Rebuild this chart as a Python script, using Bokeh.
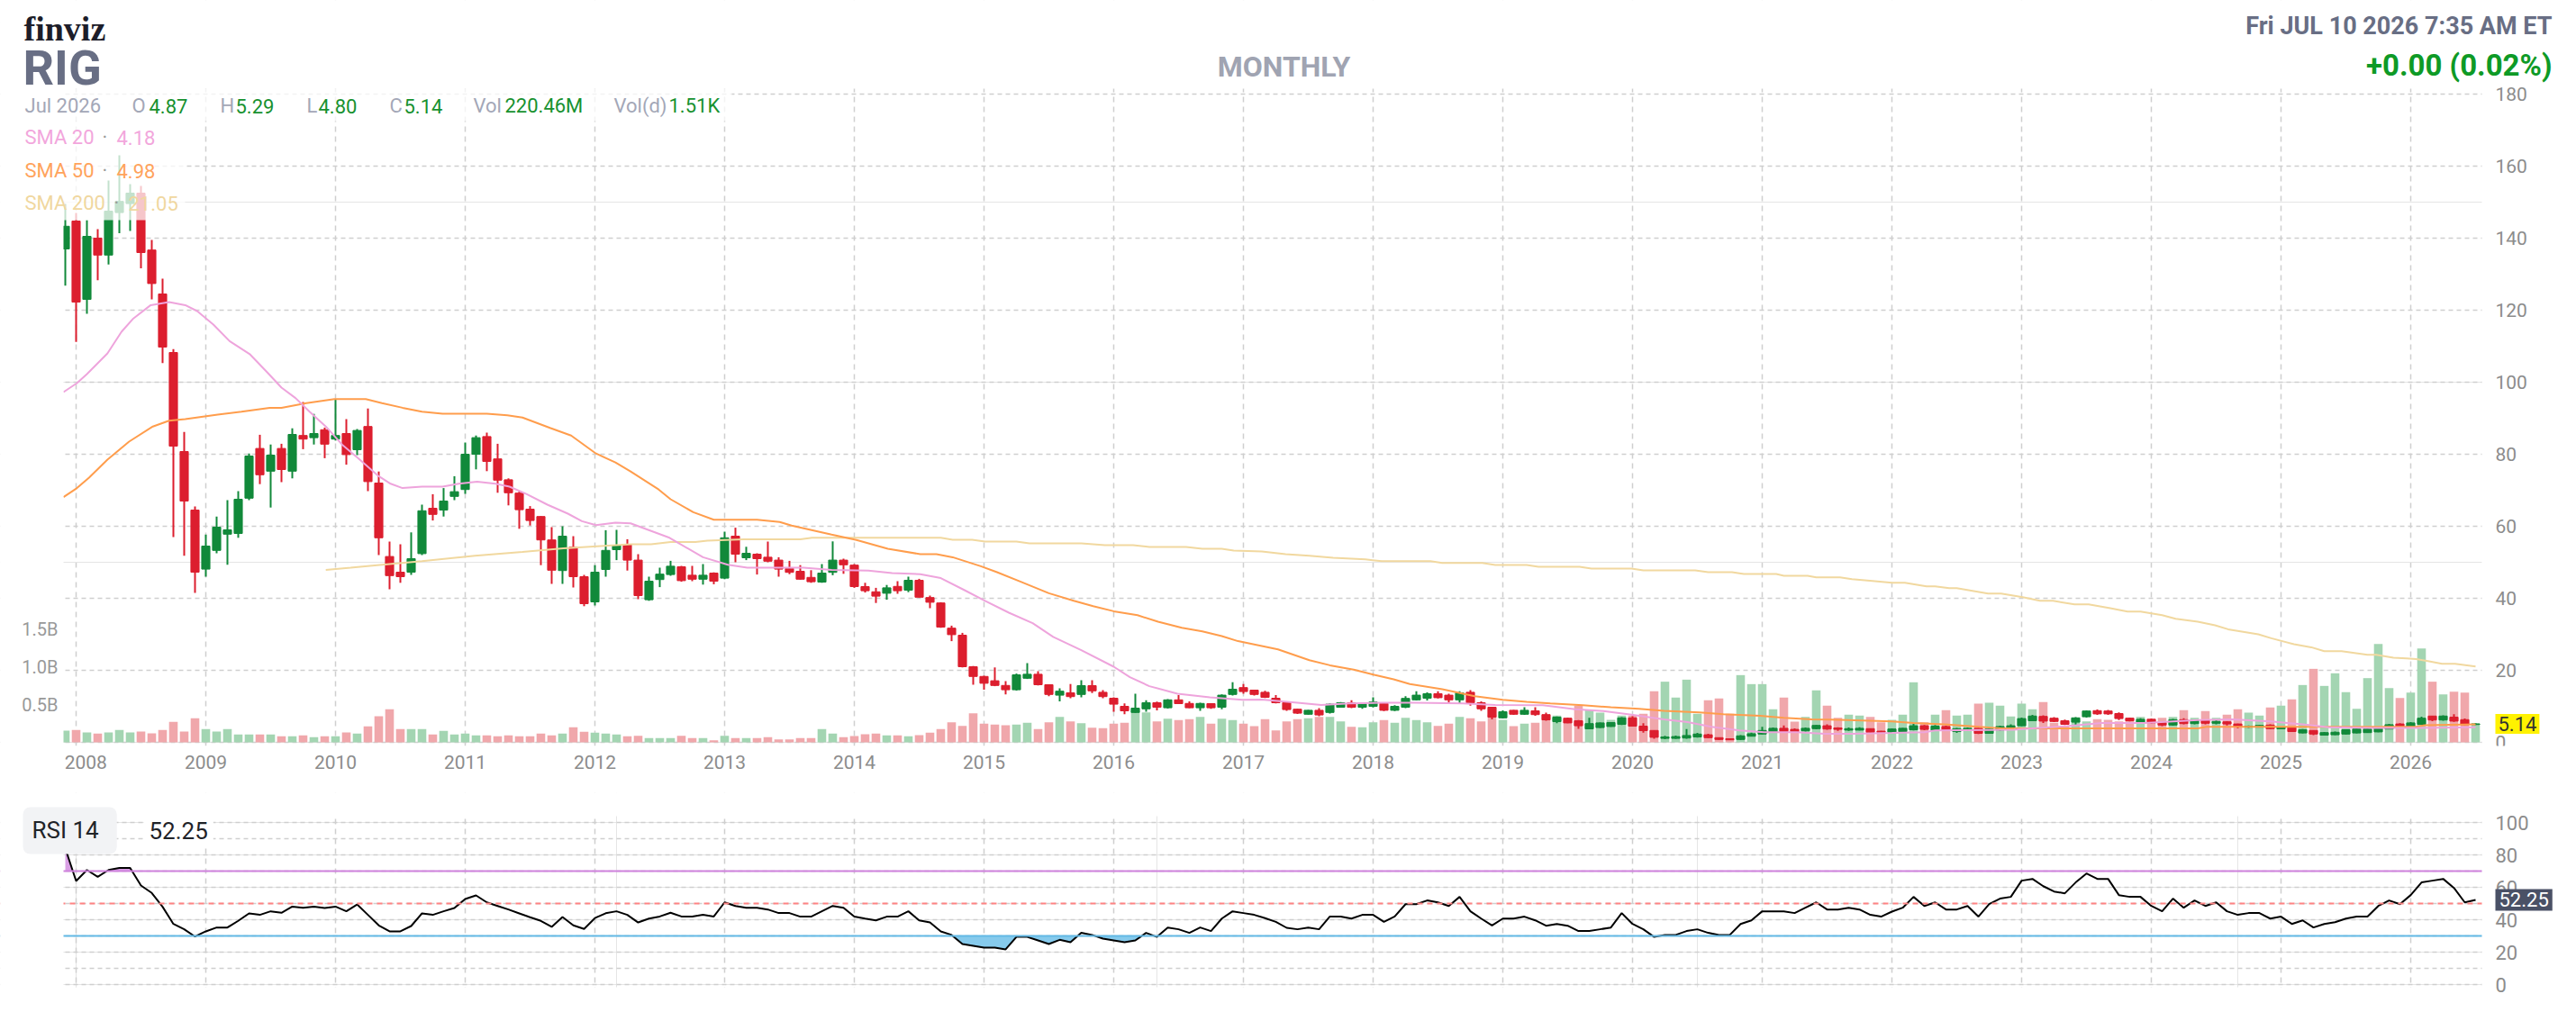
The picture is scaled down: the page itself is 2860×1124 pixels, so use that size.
import numpy as np
from bokeh.plotting import figure
from bokeh.models import Range1d, FixedTicker, Label, Span, BoxAnnotation, Grid
from bokeh.layouts import column
from bokeh.embed import file_html
from bokeh.resources import INLINE

FONT = "Roboto"

# ---------------- data (month index: 0 = Jan 2008, -1 = Dec 2007) ----------------
month_idx = list(range(-1, 223))
year_ticks = [12 * i for i in range(19)]
year_labels = [str(2008 + i) for i in range(19)]

# (open, high, low, close) per month
ohlc = [
    (137, 149.5, 126.8, 143.3),                                   # Dec 2007
    (144.75, 147, 111.2, 122.25), (123, 145, 119, 140.5), (140, 142.5, 128.3, 135.3),
    (135.3, 156, 132.7, 147.5), (147.1, 163, 141.4, 150.2), (149.6, 155, 142, 152.5),
    (152.5, 154.5, 131.6, 136), (136.7, 139.5, 123, 127.4), (124.5, 128.75, 105.3, 109.75),
    (108.25, 109.2, 57, 82.25), (80.75, 86.2, 51.8, 67), (64.5, 65.5, 41.5, 47.25),          # 2008
    (48.1, 57.7, 46, 54.5), (53.3, 62.7, 52.5, 59.75), (57.8, 67.25, 49.3, 59),
    (58, 69.75, 56.8, 67.5), (67.8, 80.2, 67.25, 79.5), (81.6, 85.4, 71.7, 74.3),
    (75.3, 82.7, 65.2, 79.75), (81.6, 82.9, 72.25, 75.75), (75.3, 87.2, 73.3, 85.5),
    (85.2, 94.5, 81.4, 84.2), (84.6, 91.2, 82.7, 85.75), (86.8, 87.4, 78.9, 82.8),           # 2009
    (84.2, 95.2, 83.8, 85.2), (85.75, 89.75, 77.1, 79.9), (81.25, 87, 79.75, 86.6),
    (87.7, 92.7, 69.75, 72.4), (72, 75.2, 52, 56.8), (51.6, 55.75, 42.5, 46.3),
    (47.25, 55, 44.3, 46), (47.25, 58.3, 46.5, 51), (52.4, 66, 52, 64.3),
    (65, 68.9, 61.6, 63.3), (64.5, 70.6, 62.7, 67), (68.3, 73.9, 67.25, 69.6),               # 2010
    (70.2, 83.25, 69, 80), (80, 85.2, 75.8, 84.6), (84.9, 86, 75.3, 78),
    (78.7, 82.9, 69.3, 72.8), (72.9, 73.3, 65.8, 69.3), (69.2, 69.6, 59.3, 64.6),
    (64.75, 65.6, 60.2, 61.6), (62.7, 62.8, 49.2, 56.2), (56.2, 59.75, 44, 47.8),
    (47.7, 60, 44, 57.25), (54.2, 57.25, 43, 46), (46, 46.5, 37.8, 38.5),                    # 2011
    (39, 49.2, 38, 47.25), (48, 58.9, 46, 53.3), (53.5, 59, 50.6, 54.75),
    (55, 56.4, 47.7, 50.6), (50.6, 52.25, 39.75, 40.75), (39.6, 46, 39.3, 44.75),
    (45.2, 48.5, 43.1, 46.7), (46.6, 50.4, 46.25, 48.9), (48.75, 49, 44.6, 44.9),
    (46.4, 49, 44.75, 45.3), (45.3, 49.5, 43.8, 46.4), (47, 47.2, 43.9, 44.75),              # 2012
    (45.6, 58.5, 45.3, 56.8), (57.25, 59.6, 50, 52.25), (51.25, 54.3, 50.6, 52.5),
    (52.25, 52.5, 46.6, 51), (51.4, 55.75, 50, 50.3), (50.6, 51.4, 46, 48.1),
    (48.3, 50.4, 46.7, 47.2), (47.5, 49.2, 45.2, 45.3), (45.8, 47.8, 44.3, 44.6),
    (44.5, 49.5, 44.3, 47), (47.2, 55.8, 46.4, 50.6), (50.6, 51, 46.8, 49.3),                # 2013
    (49.2, 49.5, 42.9, 43.25), (43.25, 44.3, 41.6, 42.1), (41.8, 42.9, 38.7, 40.6),
    (41.4, 43.7, 39.6, 42.9), (43.3, 44.75, 41.25, 42.1), (42.25, 46, 41.7, 45),
    (45, 45.4, 40.2, 40.3), (40.2, 40.75, 37.25, 38.9), (38.7, 38.9, 31.8, 32),
    (31.7, 32.4, 28.1, 29.9), (29.75, 30.4, 20.8, 21), (21, 21.2, 16, 18.3),                 # 2014
    (18.3, 18.5, 14.6, 16.4), (17.1, 20.8, 15.6, 15.8), (15.8, 17, 13.3, 14.6),
    (14.6, 19.1, 14.4, 18.75), (17.8, 22, 17.6, 18.9), (18.9, 19.75, 15.8, 16),
    (16, 16.1, 12.8, 13.3), (13.1, 15, 11.4, 14.2), (13.75, 16.2, 12.25, 12.7),
    (13.3, 17.25, 12.5, 15.75), (15.75, 17.25, 13.7, 14.3), (13.9, 14.5, 12.25, 12.7),       # 2015
    (12.25, 12.5, 8.5, 10.6), (10, 10.8, 7.8, 8.75), (8.3, 13.5, 8.2, 9.5),
    (9.3, 11.7, 8.5, 11), (11, 11.3, 8.9, 9.75), (9.6, 12, 9.4, 11.8),
    (11.8, 13.1, 10.6, 10.75), (10.8, 11.4, 9.5, 9.6), (9.6, 11, 8.75, 10.8),
    (10.75, 10.8, 9.3, 9.6), (9.75, 13.3, 9.2, 13.1), (13.3, 16.7, 13, 14.75),               # 2016
    (15.2, 16.2, 13.5, 14.1), (14.5, 14.6, 13, 13.3), (13.9, 14.3, 12.3, 12.5),
    (12.25, 13.1, 10.8, 11), (11, 11.4, 8.75, 9.1), (9.2, 9.3, 7.9, 8.1),
    (7.8, 9, 7.7, 8.9), (8.9, 9.5, 7.25, 7.6), (8.3, 10.8, 8, 10.6),
    (9.75, 11.2, 9.6, 11), (11, 11.7, 9.5, 9.75), (9.75, 11, 9.3, 10.7),                     # 2017
    (10, 12.5, 9.7, 11.2), (10.8, 11, 8.7, 8.9), (8.9, 10.3, 8.7, 10),
    (9.75, 12.8, 9.5, 12.2), (11.8, 14.2, 11.6, 13.1), (12.25, 13.9, 11.6, 13.5),
    (13.5, 14.2, 12.2, 12.4), (13.1, 13.5, 10.6, 11.8), (11.8, 14.2, 10.7, 13.75),
    (13.9, 14.5, 10.2, 11), (11, 11.4, 8.75, 9.3), (9.75, 9.9, 6.4, 7),                      # 2018
    (6.8, 8.9, 6.6, 8.5), (8.9, 9, 7.6, 7.8), (7.8, 9.75, 7.6, 8.9),
    (8.75, 9.75, 7.4, 7.7), (7.7, 8.25, 6, 6.25), (5.75, 7.2, 5.3, 7),
    (6.7, 6.9, 5.3, 5.4), (6, 6.2, 3.75, 4.6), (3.75, 6.8, 3.7, 5.2),
    (4.1, 5.5, 4, 5.4), (4.4, 5.6, 4.3, 5.5), (5, 7, 4.8, 6.8),                              # 2019
    (6.8, 7.25, 4.4, 4.5), (4.5, 5.3, 2.7, 3.25), (3.3, 3.4, 1, 1.4),
    (1.1, 1.8, 0.9, 1.5), (1.1, 1.9, 1, 1.6), (1.2, 3.7, 1, 1.9),
    (1.5, 2.6, 1.3, 2.3), (2.1, 2.4, 1.2, 1.3), (1.3, 1.4, 0.7, 0.8),
    (1.0, 1.1, 0.65, 0.7), (0.8, 2.0, 0.7, 1.8), (1.7, 2.7, 1.6, 2.4),                       # 2020
    (2.3, 4.3, 2.2, 3.3), (2.8, 4.1, 2.7, 3.9), (3.9, 4.7, 2.9, 3.0),
    (3.6, 3.9, 2.9, 3.0), (3.2, 4.1, 3.0, 3.9), (3.8, 4.8, 3.6, 4.7),
    (4.6, 5.0, 3.5, 3.7), (4.0, 4.2, 3.2, 3.6), (3.4, 4.1, 3.2, 3.8),
    (3.4, 4.2, 3.3, 3.9), (3.8, 3.9, 2.7, 2.8), (3.1, 3.2, 2.6, 2.8),                        # 2021
    (2.8, 3.9, 2.6, 3.7), (3.0, 4.0, 2.9, 3.9), (3.5, 5.2, 3.3, 4.6),
    (4.6, 4.8, 3.4, 3.6), (3.4, 4.8, 3.2, 4.5), (4.4, 4.6, 3.1, 3.4),
    (3.0, 4.0, 2.6, 3.8), (3.5, 4.1, 3.2, 3.9), (3.9, 4.0, 2.3, 2.5),
    (2.5, 3.9, 2.4, 3.7), (3.4, 4.6, 3.2, 4.4), (3.9, 5.0, 3.7, 4.6),                        # 2022
    (4.6, 6.9, 4.5, 6.6), (6.0, 7.6, 5.9, 7.3), (7.2, 7.5, 5.4, 5.9),
    (6.7, 7.0, 5.6, 5.8), (6.0, 6.3, 4.8, 5.0), (5.6, 7.0, 4.9, 6.8),
    (7.1, 8.9, 6.9, 8.7), (8.8, 9.1, 7.6, 7.9), (8.7, 9.0, 7.6, 7.9),
    (8.0, 8.3, 6.2, 6.6), (6.7, 6.9, 5.8, 6.0), (5.6, 6.7, 5.4, 6.4),                        # 2023
    (6.4, 6.6, 5.2, 5.4), (5.5, 5.8, 4.5, 4.8), (4.8, 6.5, 4.6, 6.3),
    (6.3, 6.7, 5.0, 5.2), (5.2, 6.4, 5.0, 6.1), (6.1, 6.2, 5.0, 5.3),
    (5.3, 6.1, 5.0, 5.8), (5.7, 5.9, 4.7, 5.1), (5.1, 5.2, 3.9, 4.3),
    (4.2, 4.7, 4.0, 4.5), (4.2, 4.9, 4.1, 4.7), (4.8, 5.0, 3.6, 3.8),                        # 2024
    (3.75, 4.4, 3.6, 4.2), (4.1, 4.2, 2.9, 3.0), (2.6, 3.7, 2.5, 3.5),
    (3.3, 3.4, 2.0, 2.3), (2.0, 2.9, 1.9, 2.7), (2.1, 3.0, 2.0, 2.8),
    (2.3, 3.6, 2.2, 3.5), (2.6, 3.8, 2.5, 3.7), (2.7, 3.9, 2.6, 3.7),
    (2.9, 4.4, 2.8, 4.2), (3.7, 5.1, 3.6, 4.9), (5.1, 5.3, 3.9, 4.0),                        # 2025
    (4.3, 5.6, 4.2, 5.4), (5.0, 7.1, 4.8, 6.7), (7.3, 7.4, 5.9, 6.2),
    (6.2, 7.5, 6.0, 7.3), (7.0, 7.8, 5.7, 5.9), (6.3, 6.6, 4.8, 4.9),
    (4.87, 5.29, 4.80, 5.14),                                                                # 2026
]

# monthly volume, millions of shares
volume_m = [
    155,
    163, 131, 115, 131, 163, 131, 143, 119, 163, 270, 143, 317,
    175, 143, 175, 103, 103, 103, 103, 79, 79, 91, 67, 79,
    79, 131, 115, 210, 345, 437, 175, 175, 175, 103, 151, 103,
    115, 91, 91, 79, 91, 79, 79, 115, 91, 115, 198, 139,
    127, 115, 103, 79, 87, 56, 56, 56, 87, 56, 56, 28,
    87, 56, 56, 56, 67, 40, 40, 56, 56, 175, 115, 67,
    83, 107, 115, 91, 91, 79, 95, 127, 175, 266, 218, 385,
    246, 234, 226, 234, 258, 175, 266, 337, 278, 254, 194, 187,
    246, 258, 417, 397, 278, 313, 294, 306, 337, 246, 313, 294,
    246, 214, 306, 159, 278, 306, 317, 337, 337, 278, 206, 198,
    266, 294, 258, 325, 294, 266, 218, 246, 337, 317, 278, 365,
    298, 214, 246, 258, 306, 353, 286, 484, 433, 393, 298, 353,
    353, 377, 675, 802, 591, 829, 377, 556, 580, 377, 889, 770,
    770, 437, 591, 274, 337, 687, 484, 325, 365, 353, 337, 266,
    298, 365, 794, 266, 365, 425, 353, 365, 512, 524, 484, 341,
    512, 437, 532, 258, 214, 298, 278, 306, 298, 278, 325, 337,
    313, 325, 337, 425, 325, 413, 325, 365, 437, 393, 353, 460,
    484, 567, 758, 972, 746, 913, 663, 444, 849, 1302, 718, 587,
    659, 1242, 802, 635, 671, 659, 220,
]

# RSI(14), one value per month
rsi14 = [
    84,
    63.9, 70.7, 66.5, 70.7, 72, 72, 61.1, 56.5, 48, 37.4, 34.1, 29.6,
    32.8, 35.2, 35.2, 39.3, 43.9, 43, 45.2, 44.3, 48.1, 47.4, 48.1, 47.2,
    48.1, 45.2, 49.4, 43, 36.5, 32.8, 32.8, 36.1, 43.9, 43, 45.2, 47.2,
    52.8, 55, 50.7, 48.5, 46.3, 43.9, 41.5, 39.3, 35.6, 41.7, 36.5, 34.3,
    41, 44, 45.2, 43, 38.3, 40.7, 42, 44.3, 42, 42, 43, 42,
    50.7, 48.5, 47.4, 47.4, 46.3, 44.1, 44.1, 41.9, 41.9, 45.2, 48.5, 47.4,
    41.9, 40.7, 39.6, 41.9, 41.9, 45.2, 39.6, 38.3, 32.8, 30.6, 25, 23.9,
    22.8, 22.8, 21.7, 29.4, 29.4, 27.2, 25, 27.6, 26.1, 31.9, 30.6, 28.3,
    27.2, 26.1, 27.2, 31.9, 29.4, 35.2, 34.1, 31.9, 35.2, 33, 40.7, 45.2,
    44.1, 43, 41, 38.7, 35, 34.1, 35.2, 34.1, 42, 42, 40.7, 43,
    43, 38.7, 42, 49.6, 49.6, 51.9, 50.7, 48.5, 54.1, 45.2, 40.7, 36.5,
    40.7, 40.7, 41.9, 39.6, 36.3, 37.4, 36.3, 33, 33, 34.1, 35.2, 44.1,
    37.4, 34.1, 29.4, 30.6, 30.6, 33, 34.1, 31.9, 30.6, 30.6, 37.4, 39.6,
    45.2, 45.2, 45.2, 44.1, 47.4, 50.7, 46.3, 46.3, 47.4, 46.3, 43, 41.9,
    45, 47.4, 54.1, 48.5, 50.7, 46.3, 46.3, 48.5, 41.9, 49.6, 53, 54.1,
    64.1, 65.2, 60.7, 57.4, 56.3, 63, 68.5, 65.2, 65.2, 55.2, 54.1, 54.1,
    48.5, 45.2, 53, 47.4, 51.9, 48.5, 50.7, 45.2, 43, 44.1, 44.1, 40.7,
    41.9, 37.4, 39.6, 35.2, 37.4, 38.5, 40.7, 41.9, 41.9, 48.5, 51.9, 49.6,
    55.2, 63, 64.1, 65.2, 59.6, 50.7, 52.25,
]

# moving averages: (month index, value)
sma20 = [(-1.17, 97.25), (0.08, 99.75), (1, 102.25), (2.9, 108), (4.2, 114), (5.3, 117.7),
         (6.9, 121.4), (8.6, 122.25), (10.1, 121.4), (11.2, 119.75), (12.7, 116), (14.2, 111.4),
         (16.1, 107.7), (17.7, 102.7), (19, 98.5), (20.3, 95.6), (21.6, 91.8), (23.1, 87.7),
         (24.6, 82.7), (26.1, 78.9), (28, 73.9), (29.1, 71.8), (30.2, 70.6), (32, 71), (33.9, 71),
         (35.4, 71.8), (37.1, 72.4), (38.8, 71.8), (40.1, 71), (41.7, 68.9), (43.6, 66), (45.5, 63.5),
         (46.8, 61.4), (48.1, 60.3), (49.9, 61), (51.3, 60.8), (54.9, 56.8), (58, 51.4), (60.3, 49.3),
         (62.1, 48.5), (64.7, 48.5), (67.3, 48.5), (69.9, 47.9), (73.3, 47.7), (75.5, 47), (78.1, 46.7),
         (80, 45.6), (82.2, 42.25), (84.1, 39.3), (86.3, 36), (88.5, 33.1), (90.4, 29.3), (93, 25.6),
         (96, 21), (97.5, 18.1), (99.3, 15.6), (101.9, 13.5), (104.9, 12.5), (107.9, 11.8),
         (109.7, 11.9), (113, 11), (115.2, 10.4), (117.8, 10.8), (120.8, 11), (123.8, 11),
         (128.3, 10.8), (131.3, 10.4), (135.7, 10.3), (138.7, 9.2), (141.3, 8.7), (143.9, 7.7),
         (146.9, 6.4), (149.1, 5.6), (151.3, 4.3), (153.9, 3.3), (156.2, 2.8), (159.2, 2.8),
         (161.8, 2.4), (164.3, 2.4), (168, 2.6), (171, 2.8), (172, 3.3), (179.3, 3.5), (180, 3.7),
         (184.2, 4.5), (187.4, 5.4), (191.4, 5.4), (196.3, 6.2), (199.5, 6.4), (203.1, 5.8),
         (206, 5.0), (208.4, 4.2), (212.4, 4.0), (216.5, 4.0), (222, 4.18)]
sma50 = [(-1.17, 68.1), (0.08, 70.6), (1.2, 73.5), (2.9, 78.5), (4.9, 83.5), (7.1, 87.7),
         (8.6, 89.3), (10.1, 89.75), (13.1, 91), (15.3, 91.8), (17.9, 92.9), (19, 92.9),
         (21.3, 94.2), (23.9, 95.3), (26.8, 95.3), (28.3, 94.2), (30.2, 92.9), (32, 91.8),
         (33.9, 91.25), (38, 91.25), (39.9, 90.8), (41.3, 90.2), (43.9, 87.25), (45.8, 85.2),
         (48.1, 80.2), (49.9, 77.7), (51.3, 75.2), (53.9, 70.2), (55, 67.5), (57.1, 63.9),
         (59, 61.8), (63, 61.8), (65.1, 61.2), (66.2, 60.2), (69.9, 57.7), (72.2, 56.2),
         (75.1, 53.75), (78.1, 52.25), (79.6, 52.25), (81.1, 51.4), (83.7, 48.9), (85.2, 47.25),
         (87.4, 44.6), (90, 41.4), (92.3, 39.3), (94.1, 37.8), (96, 36.4), (98.2, 35.3),
         (100.1, 33.5), (102.3, 31.8), (104.2, 30.8), (106, 29.5), (107.5, 28.1), (109.7, 26.75),
         (111.2, 25.8), (114.1, 22.8), (116, 21.4), (118.2, 20.2), (120.1, 18.75), (121.9, 17.5),
         (123.4, 16.2), (126.4, 14.75), (129.4, 12.8), (132, 11.8), (134.2, 11.25), (136.4, 10.8),
         (139.4, 10.3), (142, 9.75), (144.6, 9.3), (146.9, 8.75), (150.2, 8.3), (152.4, 7.8),
         (155.8, 7.4), (158, 6.8), (160.6, 6.4), (163.9, 6.2), (168, 5.8), (170, 5.4),
         (172.8, 5.0), (176.1, 4.3), (178.1, 3.9), (196.3, 3.9), (197.1, 4.3), (216.5, 4.3),
         (217.3, 4.75), (222, 4.98)]
sma200 = [(23.1, 47.9), (25.4, 48.5), (28.3, 49.3), (32, 50.3), (36.9, 51.8), (41.3, 52.9),
          (45.1, 53.9), (51.3, 55), (53.2, 55), (55, 55.6), (57.3, 55.6), (58.4, 56), (61.8, 56.4),
          (67, 56.4), (68.1, 56.8), (80, 56.8), (81.1, 56.25), (82.9, 56.25), (84.1, 55.75),
          (87, 55.75), (88.2, 55.25), (93, 55.25), (95.2, 54.75), (97.8, 54.75), (99.3, 54.25),
          (102.7, 54.25), (104.2, 53.75), (106, 53.75), (107.1, 53.25), (109.7, 53.0),
          (111.9, 52.25), (114.1, 51.8), (116.3, 51.25), (119.3, 50.8), (120.8, 50.3),
          (125.3, 50.3), (126.4, 49.8), (130.1, 49.8), (131.3, 49.25), (134.2, 49.25),
          (135.3, 48.75), (139.1, 48.75), (140.2, 48.25), (143.9, 48.25), (145, 47.75),
          (149.8, 47.75), (151, 47.25), (153.2, 47.25), (154.3, 46.75), (157.3, 46.75),
          (158, 46.25), (160.2, 46.25), (161, 45.8), (163.2, 45.8), (164.3, 45.3), (166.2, 44.8),
          (168, 44.3), (169.2, 44.3), (171.2, 43.3), (172, 43.3), (173.3, 42.8), (174, 42.8),
          (176.9, 41.3), (178.1, 41.3), (180.1, 40.3), (181.7, 39.3), (182.9, 39.3),
          (184.9, 38.3), (186.2, 38.3), (188.2, 37.25), (189.8, 36.3), (191, 36.3), (193, 35.3),
          (194.25, 34.3), (196.3, 33.5), (197.9, 32.5), (199.1, 31.4), (201.9, 30), (203.1, 28.9),
          (205.2, 27.25), (206.8, 26.4), (208, 25.3), (209.6, 25.3), (210.8, 24.8), (212, 24.3),
          (212.8, 24.3), (214.4, 23.5), (215.6, 23.3), (216.5, 23.1), (217.7, 22.5),
          (218.9, 21.8), (220.1, 21.8), (222, 21.05)]

price_ticks = list(range(0, 181, 20))
vol_ticks = [500, 1000, 1500]
vol_tick_labels = ["0.5B", "1.0B", "1.5B"]
rsi_ticks = list(range(0, 101, 20))

# ---------------- geometry (page pixels) ----------------
PX_PER_MONTH = 12.0
X0_PX = 84.0              # x pixel of Jan 2008
PLOT_L, PLOT_R = 70, 2755  # visible chart area
P_ZERO, P_SCALE = 824.0, 4.0     # price 0 at y=824, 4 px per dollar
V_SCALE = 0.084                  # px per million shares
R_ZERO, R_SCALE = 1093.0, 1.8    # RSI 0 at y=1093

UP, DOWN = "#11893a", "#dc1e2e"
VUP, VDOWN = "#a3d5b2", "#f0a7ab"
GRID = "#cfcfcf"
AXIS_TXT = "#8c8c8c"

m = np.array(month_idx, dtype=float)
o = np.array([r[0] for r in ohlc]); h = np.array([r[1] for r in ohlc])
lo = np.array([r[2] for r in ohlc]); c = np.array([r[3] for r in ohlc])
up = c >= o
ccol = np.where(up, UP, DOWN).tolist()
vcol = np.where(up, VUP, VDOWN).tolist()

def xd(px):
    return (px - X0_PX) / PX_PER_MONTH

XR = Range1d(xd(0), xd(2860))

def white_box(fig, left, right, bottom, top):
    fig.add_layout(BoxAnnotation(left=left, right=right, bottom=bottom, top=top,
                                 fill_color="white", fill_alpha=1.0, line_color=None))

def lab(fig, text, px, py, color, size, fb, bold=False, align="left", baseline="middle",
        font=FONT, **kw):
    fig.add_layout(Label(x=px, y=fb - py, x_units="screen", y_units="screen", text=text,
                         text_color=color, text_font_size=f"{size}px", text_font=font,
                         text_font_style="bold" if bold else "normal", text_align=align,
                         text_baseline=baseline, **kw))

# ---------------- price panel: frame = page x 0..2860, y 0..828 ----------------
P_FB = 828
p = figure(width=2860, height=880, x_range=XR,
           y_range=Range1d((P_ZERO - P_FB) / P_SCALE, P_ZERO / P_SCALE),
           x_axis_location="below", y_axis_location=None,
           output_backend="svg", toolbar_location=None,
           min_border=0, min_border_left=0, min_border_right=0, min_border_top=0,
           min_border_bottom=52)
p.outline_line_color = None
p.background_fill_color = "white"
p.border_fill_color = "white"

lab_ticks = [0.9] + year_ticks[1:]
p.xaxis.ticker = FixedTicker(ticks=lab_ticks)
p.xaxis.major_label_overrides = {t: l for t, l in zip(lab_ticks, year_labels)}
p.xaxis.axis_line_color = None
p.xaxis.major_tick_line_color = None
p.xaxis.minor_tick_line_color = None
p.xaxis.major_tick_out = 0
p.xaxis.major_label_text_color = AXIS_TXT
p.xaxis.major_label_text_font = FONT
p.xaxis.major_label_text_font_size = "21px"
p.xaxis.major_label_standoff = 10

p.xgrid.ticker = FixedTicker(ticks=year_ticks)
p.xgrid.grid_line_color = GRID
p.xgrid.grid_line_dash = "6 5"
p.xgrid.grid_line_width = 1.5
p.add_layout(Grid(dimension=1, ticker=FixedTicker(ticks=price_ticks), grid_line_color=GRID,
                  grid_line_dash="5 4", grid_line_width=1.5))

p.extra_y_ranges = {"vol": Range1d((P_ZERO - P_FB) / V_SCALE, P_ZERO / V_SCALE)}

p.vbar(x=m, bottom=0, top=volume_m, width=0.8, fill_color=vcol, line_color=None, y_range_name="vol")
p.segment(x0=m, y0=lo, x1=m, y1=h, line_color=ccol, line_width=2)
p.vbar(x=m, bottom=np.minimum(o, c), top=np.maximum(o, c), width=0.76,
       fill_color=ccol, line_color=ccol, line_width=1)

p.line([a for a, b in sma200], [b for a, b in sma200], line_color="#f1d89f", line_width=2)
p.line([a for a, b in sma50], [b for a, b in sma50], line_color="#ff9d4c", line_width=2)
p.line([a for a, b in sma20], [b for a, b in sma20], line_color="#eea4dc", line_width=2)

# translucent legend backgrounds (fade the candles behind the legend)
def pyd(py):
    return (P_ZERO - py) / P_SCALE
p.add_layout(BoxAnnotation(left=xd(PLOT_L), right=xd(812), bottom=pyd(134), top=pyd(98),
                           fill_color="white", fill_alpha=0.75, line_color=None))
p.add_layout(BoxAnnotation(left=xd(PLOT_L), right=xd(205), bottom=pyd(244), top=pyd(134),
                           fill_color="white", fill_alpha=0.75, line_color=None))

# blank margins around the chart area
white_box(p, xd(-20), xd(PLOT_L), pyd(900), pyd(-20))
white_box(p, xd(PLOT_R), xd(2900), pyd(900), pyd(-20))
white_box(p, xd(-20), xd(2900), pyd(98), pyd(-20))

# header
lab(p, "finviz", 26, 31, "#1d1d29", 38, P_FB, bold=True, baseline="alphabetic", font="Liberation Serif")
lab(p, "RIG", 25, 75, "#686e84", 54, P_FB, bold=True)
lab(p, "MONTHLY", 1425, 73, "#a0a4b2", 32, P_FB, bold=True, align="center")
lab(p, "Fri JUL 10 2026 7:35 AM ET", 2833, 28, "#686e84", 27, P_FB, bold=True, align="right")
lab(p, "+0.00 (0.02%)", 2833, 72, "#0e9a26", 33, P_FB, bold=True, align="right")

GL, GV = "#a3a7b7", "#17912f"
for t, x, col in [("Jul 2026", 27, GL), ("O", 146, GL), ("4.87", 165, GV), ("H", 244, GL),
                  ("5.29", 261, GV), ("L", 340, GL), ("4.80", 353, GV), ("C", 432, GL),
                  ("5.14", 448, GV), ("Vol", 525, GL), ("220.46M", 560, GV),
                  ("Vol(d)", 681, GL), ("1.51K", 742, GV)]:
    lab(p, t, x, 117, col, 22, P_FB)

for name, val, y, col, dx in [("SMA 20", "4.18", 152, "#f2a6dc", 0), ("SMA 50", "4.98", 189, "#ffa35c", 0),
                              ("SMA 200", "21.05", 225, "#f0d79f", 13)]:
    lab(p, name, 27, y, col, 22, P_FB)
    lab(p, "\u00b7", 113 + dx, y, "#9a9a9a", 22, P_FB)
    lab(p, val, 129 + dx, y, col, 22, P_FB)

# price tick labels (right) and volume tick labels (left)
for t in price_ticks:
    lab(p, str(t), 2770, P_ZERO - t * P_SCALE, AXIS_TXT, 21, P_FB)
for t, s in zip(vol_ticks, vol_tick_labels):
    lab(p, s, 64, P_ZERO - t * V_SCALE, "#999999", 20, P_FB, align="right")

p.add_layout(Label(x=2770, y=c[-1], x_units="screen", y_units="data", text=f"{c[-1]:.2f}",
                   text_color="#333333", text_font=FONT, text_font_size="22px", text_baseline="middle",
                   background_fill_color="#fff200", padding=3))

# ---------------- RSI panel: frame = page x 0..2860, y 880..1124 ----------------
R_FB = 1124
r = figure(width=2860, height=244, x_range=XR,
           y_range=Range1d((R_ZERO - R_FB) / R_SCALE, (R_ZERO - 880) / R_SCALE),
           x_axis_location=None, y_axis_location=None,
           output_backend="svg", toolbar_location=None,
           min_border=0, min_border_left=0, min_border_right=0, min_border_top=0, min_border_bottom=0)
r.outline_line_color = None
r.background_fill_color = "white"
r.border_fill_color = "white"
r.add_layout(Grid(dimension=0, ticker=FixedTicker(ticks=year_ticks), grid_line_color=GRID,
                  grid_line_dash="6 5", grid_line_width=1.5))
r.add_layout(Grid(dimension=1, ticker=FixedTicker(ticks=list(range(0, 101, 10))), grid_line_color=GRID,
                  grid_line_dash="5 4", grid_line_width=1.5))

def with_crossings(xs, ys, level):
    X, Y = [xs[0]], [ys[0]]
    for i in range(1, len(xs)):
        y0, y1 = ys[i - 1], ys[i]
        if (y0 - level) * (y1 - level) < 0:
            t = (level - y0) / (y1 - y0)
            X.append(xs[i - 1] + t * (xs[i] - xs[i - 1])); Y.append(level)
        X.append(xs[i]); Y.append(ys[i])
    return np.array(X), np.array(Y)

rs = np.array(rsi14, dtype=float)
x70, y70 = with_crossings(m, rs, 70)
r.varea(x=x70, y1=70, y2=np.maximum(y70, 70), fill_color="#d99fe4")
x30, y30 = with_crossings(m, rs, 30)
r.varea(x=x30, y1=np.minimum(y30, 30), y2=30, fill_color="#86caec")

r.add_layout(Span(location=70, dimension="width", line_color="#cf82dd", line_width=2, level="glyph"))
r.add_layout(Span(location=50, dimension="width", line_color="#ff8383", line_width=2,
                  line_dash="6 5", level="glyph"))
r.add_layout(Span(location=30, dimension="width", line_color="#63b9e6", line_width=2, level="glyph"))
r.line(m, rs, line_color="black", line_width=2)

def ryd(py):
    return (R_ZERO - py) / R_SCALE
white_box(r, xd(-20), xd(PLOT_L), ryd(1200), ryd(800))
white_box(r, xd(PLOT_R), xd(2900), ryd(1200), ryd(800))
white_box(r, xd(-20), xd(2900), ryd(906), ryd(800))
white_box(r, xd(-20), xd(2900), ryd(1200), ryd(1096))

for t in rsi_ticks:
    lab(r, str(t), 2770, R_ZERO - t * R_SCALE, AXIS_TXT, 22, R_FB)

lab(r, "RSI 14", 25, 922, "#1f2328", 26, R_FB,
    background_fill_color="#f2f3f5", padding=(10, 20, 10, 12), border_radius=8)
lab(r, f"{rs[-1]:.2f}", 159, 922, "#1f2328", 26, R_FB, background_fill_color="white", padding=6)
r.add_layout(Label(x=2770, y=rs[-1], x_units="screen", y_units="data", text=f"{rs[-1]:.2f}",
                   text_color="white", text_font=FONT, text_font_size="22px", text_baseline="middle",
                   background_fill_color="#4a5166", padding=4))

layout = column(p, r)
open("out.html", "w").write(file_html(layout, INLINE))
